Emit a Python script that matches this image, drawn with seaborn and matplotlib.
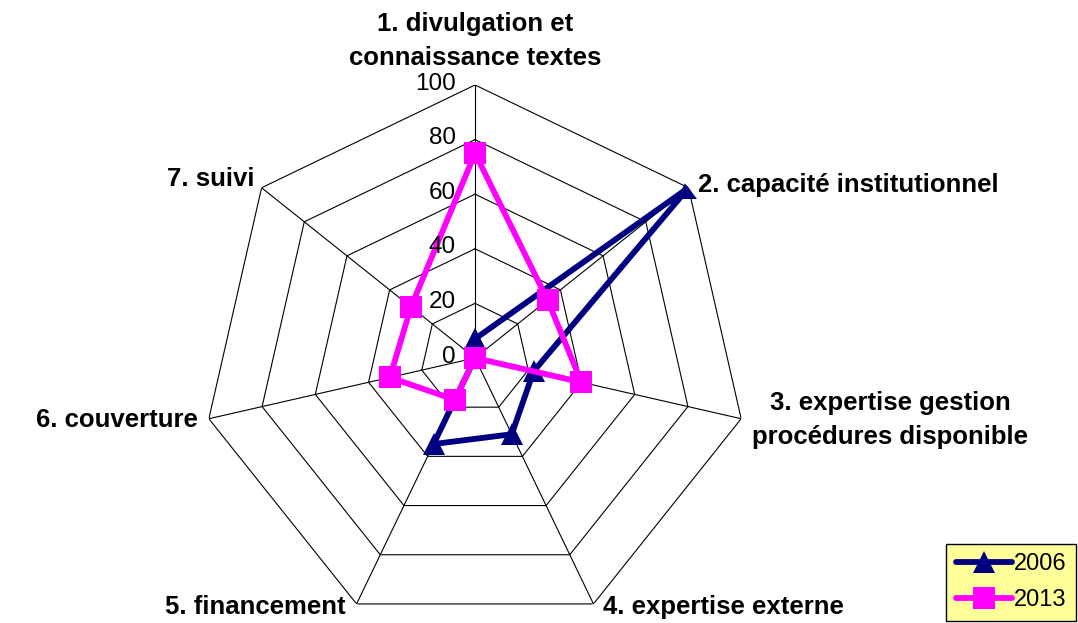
import numpy as np
import pandas as pd
import matplotlib
matplotlib.use('Agg')
import matplotlib.pyplot as plt
import seaborn as sns

# axis labels and values
categories = ['1. divulgation et\nconnaissance textes',
              '2. capacité institutionnel',
              '3. expertise gestion\nprocédures disponible',
              '4. expertise externe',
              '5. financement',
              '6. couverture',
              '7. suivi']
values_2006 = [7, 100, 22, 31, 35, 0, 0]
values_2013 = [75, 34, 40, 0, 17, 32, 30]
years = ['2006', '2013']
r_ticks = [0, 20, 40, 60, 80, 100]

sns.set_style('white')
plt.rcParams['font.family'] = ['Liberation Sans', 'DejaVu Sans']
plt.rcParams['text.color'] = 'black'

n = len(categories)
theta = np.linspace(0, 2 * np.pi, n, endpoint=False)

# long form, close each polygon by repeating the first point
rows = []
for year, vals in zip(years, [values_2006, values_2013]):
    for t, v in zip(list(theta) + [2 * np.pi], vals + [vals[0]]):
        rows.append({'theta': t, 'value': v, 'year': year})
df = pd.DataFrame(rows)

fig = plt.figure(figsize=(10.78, 6.23), dpi=100)
ax = fig.add_axes([0.1874, -0.0128, 0.5065, 0.8764], projection='polar')
ax.set_theta_zero_location('N')
ax.set_theta_direction(-1)

# heptagon grid + spokes
ax.grid(False)
ax.spines['polar'].set_visible(False)
closed = np.append(theta, theta[0])
for r in r_ticks[1:]:
    ax.plot(closed, [r] * (n + 1), color='black', lw=0.8, zorder=1)
for t in theta:
    ax.plot([t, t], [0, 100], color='black', lw=0.8, zorder=1)

palette = {'2006': '#000080', '2013': '#FF00FF'}
sns.lineplot(data=df, x='theta', y='value', hue='year', style='year',
             palette=palette, markers={'2006': '^', '2013': 's'}, dashes=False,
             sort=False, linewidth=4.2, markersize=16, markeredgewidth=0,
             ax=ax, zorder=3)

ax.set_ylim(0, 100)
ax.set_xticks([])
ax.set_yticks([])
ax.set_xlabel('')
ax.set_ylabel('')

# radial tick labels along the top spoke
for r in r_ticks:
    ax.annotate(str(r), xy=(0, r), xytext=(-14, 1), textcoords='offset points',
                ha='right', va='center', fontsize=17.5, color='black',
                annotation_clip=False)

# category labels
label_pos = [('center', 'bottom', (0, 11)),
             ('left', 'center', (7, 2)),
             ('left', 'center', (8, -1)),
             ('left', 'center', (7, -2)),
             ('right', 'center', (-8, -2)),
             ('right', 'center', (-8, -1)),
             ('right', 'center', (-5, 6))]
for t, lab, (ha, va, off) in zip(theta, categories, label_pos):
    ax.annotate(lab, xy=(t, 100), xytext=off, textcoords='offset points',
                ha=ha, va=va, fontsize=18.5, fontweight='bold', color='black',
                multialignment='center', linespacing=1.5,
                annotation_clip=False)

handles, labels = ax.get_legend_handles_labels()
ax.get_legend().remove()
leg = fig.legend(handles, labels, loc='lower right', bbox_to_anchor=(1.0, 0.0),
                 fontsize=17, frameon=True, fancybox=False, handlelength=2.4,
                 handletextpad=0.05, borderpad=0.4, labelspacing=0.6,
                 borderaxespad=0.1)
leg.get_frame().set_facecolor('#FFFF99')
leg.get_frame().set_edgecolor('black')
leg.get_frame().set_alpha(1)
for txt in leg.get_texts():
    txt.set_color('black')

fig.savefig('out.png', dpi=100, facecolor='white')
